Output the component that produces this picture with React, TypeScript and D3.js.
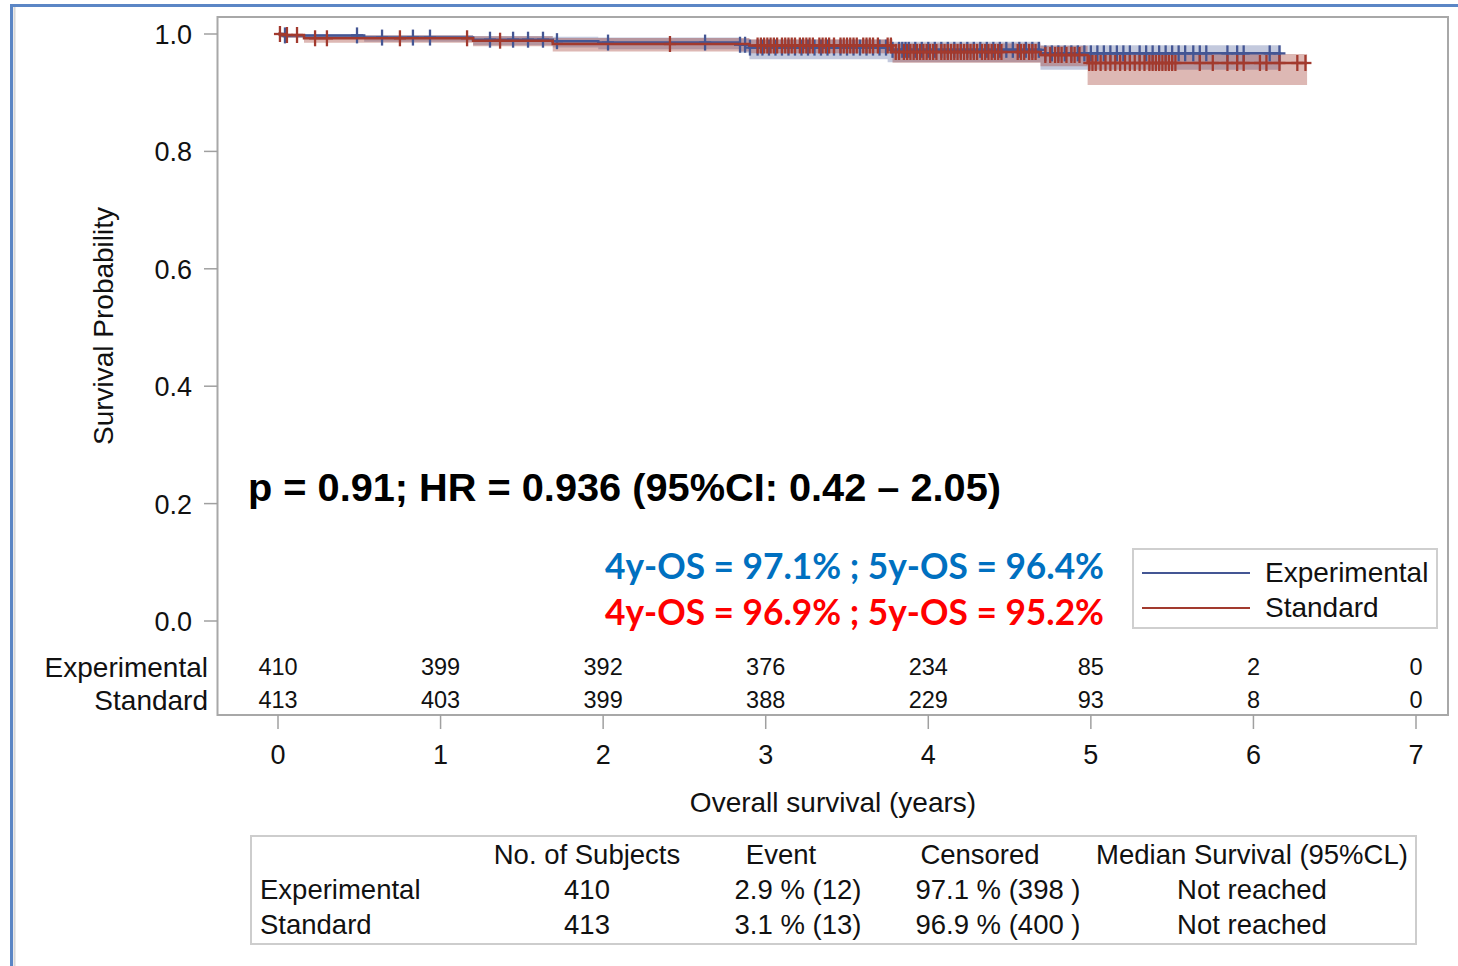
import React from "react";
import * as d3 from "d3";

// ---------- DATA ----------
const xTicks = [0, 1, 2, 3, 4, 5, 6, 7];
const yTicks = [0, 0.2, 0.4, 0.6, 0.8, 1.0];
const groups = ["Experimental", "Standard"];
const atRiskExp = [410, 399, 392, 376, 234, 85, 2, 0];
const atRiskStd = [413, 403, 399, 388, 229, 93, 8, 0];

// Kaplan-Meier steps (time in years, survival, 95% band)
const expTimes = [0, 0.03, 0.53, 1.2, 1.69, 1.97, 2.84, 2.9, 3.75, 4.69];
const expSurv = [1, 0.9976, 0.9939, 0.9903, 0.9878, 0.9854, 0.9817, 0.9768, 0.973, 0.967];
const expLower = [1, 0.993, 0.987, 0.981, 0.977, 0.974, 0.968, 0.957, 0.952, 0.939];
const expUpper = [1, 1.0, 0.9985, 0.9968, 0.9955, 0.994, 0.992, 0.99, 0.987, 0.981];
const expEnd = 6.17;

const stdTimes = [0, 0.02, 0.16, 1.2, 1.69, 2.9, 3.78, 4.69, 4.98];
const stdSurv = [1, 0.9983, 0.9927, 0.9886, 0.983, 0.9804, 0.9693, 0.9642, 0.9506];
const stdLower = [1, 0.9935, 0.985, 0.979, 0.97, 0.967, 0.951, 0.945, 0.913];
const stdUpper = [1, 1.0, 0.9975, 0.996, 0.993, 0.991, 0.984, 0.98, 0.966];
const stdEnd = 6.33;

// censoring times
const expCensor = [
  0.043, 0.486, 0.64, 0.83, 0.935, 1.304, 1.446, 1.538, 1.63, 1.716, 2.03, 2.627, 2.842, 2.873, 2.903,
  2.95, 2.98, 3.02, 3.06, 3.1, 3.14, 3.18, 3.22, 3.26, 3.3, 3.34, 3.38, 3.42, 3.46, 3.5, 3.54, 3.58,
  3.62, 3.66, 3.7, 3.74, 3.78, 3.82, 3.84, 3.86, 3.88, 3.92, 3.96, 4.0, 4.04, 4.08, 4.12, 4.16, 4.2,
  4.24, 4.28, 4.32, 4.36, 4.4, 4.44, 4.48, 4.52, 4.56, 4.6, 4.64, 4.68, 4.72, 4.76, 4.8, 4.84, 4.88,
  4.92, 4.96, 5.0, 5.04, 5.08, 5.12, 5.16, 5.2, 5.24, 5.3, 5.34, 5.38, 5.42, 5.46, 5.5, 5.54, 5.58,
  5.63, 5.67, 5.71, 5.84, 5.9, 5.94, 6.1, 6.16,
];
const stdCensor = [
  0.012, 0.055, 0.117, 0.228, 0.301, 0.75, 1.163, 1.366, 2.411,
  2.95, 2.97, 2.99, 3.01, 3.03, 3.05, 3.07, 3.1, 3.12, 3.14, 3.16, 3.18, 3.21, 3.23, 3.25, 3.27, 3.29,
  3.33, 3.35, 3.37, 3.39, 3.42, 3.46, 3.48, 3.5, 3.52, 3.54, 3.56, 3.6, 3.62, 3.64, 3.66, 3.69, 3.75,
  3.77, 3.8, 3.82, 3.85, 3.87, 3.89, 3.91, 3.93, 3.95, 3.97, 3.99, 4.01, 4.03, 4.05, 4.08, 4.1, 4.12,
  4.14, 4.16, 4.18, 4.2, 4.22, 4.24, 4.26, 4.28, 4.3, 4.33, 4.35, 4.37, 4.39, 4.41, 4.43, 4.45, 4.55,
  4.57, 4.59, 4.62, 4.64, 4.66, 4.72, 4.75, 4.78, 4.8, 4.82, 4.85, 4.88, 4.9, 4.93, 4.99, 5.01, 5.03,
  5.06, 5.09, 5.12, 5.15, 5.18, 5.21, 5.24, 5.27, 5.3, 5.33, 5.36, 5.38, 5.4, 5.42, 5.44, 5.46, 5.48,
  5.5, 5.52, 5.67, 5.75, 5.84, 5.9, 5.94, 6.04, 6.08, 6.16, 6.27, 6.32,
];

const statText = "p = 0.91; HR = 0.936 (95%CI: 0.42 \u2013 2.05)";
const osExpText = "4y-OS = 97.1% ; 5y-OS = 96.4%";
const osStdText = "4y-OS = 96.9% ; 5y-OS = 95.2%";

const tableHeaders = ["No. of Subjects", "Event", "Censored", "Median Survival (95%CL)"];
const tableExp = ["410", "2.9 % (12)", "97.1 % (398 )", "Not reached"];
const tableStd = ["413", "3.1 % (13)", "96.9 % (400 )", "Not reached"];

// ---------- STYLE ----------
const BLUE = "#445694";
const RED = "#A23A2E";
const FONT = "'Liberation Sans', Arial, sans-serif";
const TXT = "#111";

export default function App() {
  const W = 1458, H = 966;
  const x = d3.scaleLinear().domain([0, 7]).range([278, 1416]);
  const y = d3.scaleLinear().domain([0, 1]).range([621, 34]);
  const frame = { l: 217.5, t: 17, r: 1448, b: 715 };

  const mk = (times: number[], s: number[], lo: number[], hi: number[], end: number) => {
    const pts = times.map((t, i) => ({ t, s: s[i], lo: lo[i], hi: hi[i] }));
    pts.push({ ...pts[pts.length - 1], t: end });
    return pts;
  };
  const expPts = mk(expTimes, expSurv, expLower, expUpper, expEnd);
  const stdPts = mk(stdTimes, stdSurv, stdLower, stdUpper, stdEnd);

  const line = d3.line<any>().x((d) => x(d.t)).y((d) => y(d.s)).curve(d3.curveStepAfter);
  const area = d3
    .area<any>()
    .x((d) => x(d.t))
    .y0((d) => y(d.lo))
    .y1((d) => y(d.hi))
    .curve(d3.curveStepAfter);

  const survAt = (times: number[], s: number[], t: number) => {
    const i = d3.bisectRight(times, t) - 1;
    return s[Math.max(0, i)];
  };

  const marks = (cens: number[], times: number[], s: number[], color: string) =>
    cens.map((t, i) => {
      const cx = x(t);
      const cy = y(survAt(times, s, t));
      return (
        <g key={i} stroke={color} strokeWidth={2.3}>
          <line x1={cx} x2={cx} y1={cy - 8} y2={cy + 8} />
          <line x1={cx - 6} x2={cx + 6} y1={cy} y2={cy} />
        </g>
      );
    });

  const colX = [587, 798, 998, 1252];
  const headX = [587, 781, 980, 1252];

  return (
    <div style={{ position: "absolute", left: 0, top: 0, width: W, height: H, overflow: "hidden" }}>
      <svg width={W} height={H} style={{ display: "block", background: "#fff" }} fontFamily={FONT}>
        {/* outer picture border */}
        <line x1={14.5} x2={14.5} y1={7} y2={H} stroke="#d6d6d6" strokeWidth={2} />
        <line x1={11.5} x2={11.5} y1={4} y2={H} stroke="#5b86c5" strokeWidth={3} />
        <line x1={10} x2={W} y1={5.5} y2={5.5} stroke="#5b86c5" strokeWidth={3} />

        {/* bands */}
        <path d={area(expPts) || ""} fill={BLUE} fillOpacity={0.32} />
        <path d={area(stdPts) || ""} fill={RED} fillOpacity={0.36} />

        {/* curves */}
        <path d={line(expPts) || ""} fill="none" stroke={BLUE} strokeWidth={2.5} />
        {marks(expCensor, expTimes, expSurv, BLUE)}
        <path d={line(stdPts) || ""} fill="none" stroke={RED} strokeWidth={2.5} />
        {marks(stdCensor, stdTimes, stdSurv, RED)}

        {/* frame */}
        <rect
          x={frame.l}
          y={frame.t}
          width={frame.r - frame.l}
          height={frame.b - frame.t}
          fill="none"
          stroke="#a8a8a8"
          strokeWidth={2}
        />

        {/* y axis */}
        {yTicks.map((v) => (
          <g key={v}>
            <line x1={204} x2={frame.l} y1={y(v)} y2={y(v)} stroke="#a0a0a0" strokeWidth={1.5} />
            <text x={192} y={y(v) + 10} textAnchor="end" fontSize={27} fill={TXT}>
              {v.toFixed(1)}
            </text>
          </g>
        ))}
        <text
          transform={`translate(113,326) rotate(-90)`}
          textAnchor="middle"
          fontSize={28}
          fill={TXT}
        >
          Survival Probability
        </text>

        {/* x axis */}
        {xTicks.map((v) => (
          <g key={v}>
            <line x1={x(v)} x2={x(v)} y1={frame.b} y2={729} stroke="#a0a0a0" strokeWidth={1.5} />
            <text x={x(v)} y={764} textAnchor="middle" fontSize={27} fill={TXT}>
              {v}
            </text>
          </g>
        ))}
        <text x={833} y={812} textAnchor="middle" fontSize={28} fill={TXT}>
          Overall survival (years)
        </text>

        {/* at risk */}
        <text x={208} y={677} textAnchor="end" fontSize={28} fill={TXT}>
          {groups[0]}
        </text>
        <text x={208} y={710} textAnchor="end" fontSize={28} fill={TXT}>
          {groups[1]}
        </text>
        {xTicks.map((v, i) => (
          <g key={"ar" + v}>
            <text x={x(v)} y={675} textAnchor="middle" fontSize={23.5} fill={TXT}>
              {atRiskExp[i]}
            </text>
            <text x={x(v)} y={708} textAnchor="middle" fontSize={23.5} fill={TXT}>
              {atRiskStd[i]}
            </text>
          </g>
        ))}

        {/* annotations */}
        <text
          x={248}
          y={501}
          fontSize={39.5}
          fontWeight="bold"
          fill="#000"
          textLength={753}
          lengthAdjust="spacingAndGlyphs"
        >
          {statText}
        </text>
        <text
          x={605}
          y={579}
          fontSize={36}
          fontWeight="bold"
          fill="#0070C0"
          fontFamily="Lato, 'Open Sans', sans-serif"
          textLength={499}
          lengthAdjust="spacingAndGlyphs"
        >
          {osExpText}
        </text>
        <text
          x={605}
          y={625}
          fontSize={36}
          fontWeight="bold"
          fill="#FF0000"
          fontFamily="Lato, 'Open Sans', sans-serif"
          textLength={499}
          lengthAdjust="spacingAndGlyphs"
        >
          {osStdText}
        </text>

        {/* legend */}
        <rect x={1133} y={549} width={304} height={79} fill="#fff" stroke="#cfcfcf" strokeWidth={2} />
        <line x1={1142} x2={1250} y1={573} y2={573} stroke={BLUE} strokeWidth={2} />
        <line x1={1142} x2={1250} y1={608} y2={608} stroke={RED} strokeWidth={2} />
        <text x={1265} y={582} fontSize={28} fill={TXT}>
          {groups[0]}
        </text>
        <text x={1265} y={617} fontSize={28} fill={TXT}>
          {groups[1]}
        </text>

        {/* summary table */}
        <rect x={251} y={836} width={1165} height={108} fill="#fff" stroke="#cdcdcd" strokeWidth={2} />
        {tableHeaders.map((h, i) => (
          <text key={h} x={headX[i]} y={864} textAnchor="middle" fontSize={27.5} fill={TXT}>
            {h}
          </text>
        ))}
        <text x={260} y={899} fontSize={27.5} fill={TXT}>
          {groups[0]}
        </text>
        <text x={260} y={934} fontSize={27.5} fill={TXT}>
          {groups[1]}
        </text>
        {tableExp.map((v, i) => (
          <text key={"te" + i} x={colX[i]} y={899} textAnchor="middle" fontSize={27.5} fill={TXT}>
            {v}
          </text>
        ))}
        {tableStd.map((v, i) => (
          <text key={"ts" + i} x={colX[i]} y={934} textAnchor="middle" fontSize={27.5} fill={TXT}>
            {v}
          </text>
        ))}
      </svg>
    </div>
  );
}
